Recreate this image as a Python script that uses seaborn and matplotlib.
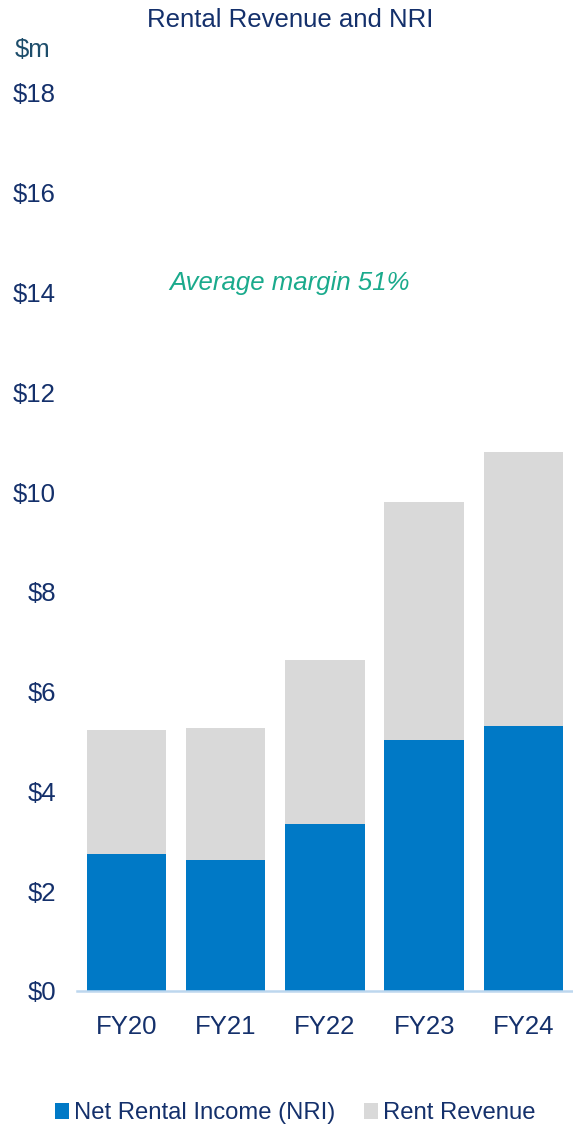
import matplotlib
matplotlib.use("Agg")
import matplotlib.pyplot as plt
import seaborn as sns
import pandas as pd
from matplotlib.patches import Patch

years = ["FY20", "FY21", "FY22", "FY23", "FY24"]
rent_revenue = [5.23, 5.27, 6.63, 9.80, 10.80]
nri = [2.75, 2.63, 3.35, 5.03, 5.31]
y_ticks = [0, 2, 4, 6, 8, 10, 12, 14, 16, 18]
y_tick_labels = [f"${v}" for v in y_ticks]

sns.set_theme(style="white")
plt.rcParams['font.family'] = ['Liberation Sans', 'DejaVu Sans']

NAVY = "#14306B"
BLUE = "#0079C6"
GREY = "#D9D9D9"
FS = 18.5

df = pd.DataFrame({"year": years, "rev": rent_revenue, "nri": nri})

fig = plt.figure(figsize=(5.73, 11.35), dpi=100)
ax = fig.add_axes([0.134, 0.1269, 0.866, 0.7912])

sns.barplot(data=df, x="year", y="rev", color=GREY, width=0.8, ax=ax,
            saturation=1, zorder=2, linewidth=0)
sns.barplot(data=df, x="year", y="nri", color=BLUE, width=0.8, ax=ax,
            saturation=1, zorder=3, linewidth=0)

ax.set_xlim(-0.5, 4.5)
ax.set_ylim(0, 18)
ax.set_yticks(y_ticks)
ax.set_yticklabels(y_tick_labels)
ax.set_xlabel("")
ax.set_ylabel("")
for s in ["top", "right", "left"]:
    ax.spines[s].set_visible(False)
ax.spines["bottom"].set_color("#BDD7EE")
ax.spines["bottom"].set_linewidth(1.8)
ax.spines["bottom"].set_zorder(4)
ax.tick_params(axis="y", length=0, pad=15, labelsize=FS, labelcolor=NAVY)
ax.tick_params(axis="x", length=0, pad=17, labelsize=FS, labelcolor=NAVY)
ax.grid(False)

ax.text(1.64, 14.2, "Average margin 51%", style="italic", color="#1AAA8C",
        fontsize=FS, ha="center", va="center")

fig.text(0.506, 0.982, "Rental Revenue and NRI", ha="center", va="center",
         fontsize=FS, color=NAVY)
fig.text(0.057, 0.956, "$m", ha="center", va="center", fontsize=FS,
         color="#1D4D6B")

handles = [Patch(facecolor=BLUE, edgecolor="none", label="Net Rental Income (NRI)"),
           Patch(facecolor=GREY, edgecolor="none", label="Rent Revenue")]
leg = fig.legend(handles=handles, loc="center", bbox_to_anchor=(0.515, 0.019),
                 ncol=2, frameon=False, fontsize=17.2, handlelength=0.6,
                 handleheight=0.6, handletextpad=0.2, columnspacing=1.2)
for t in leg.get_texts():
    t.set_color(NAVY)

fig.savefig("out.png", dpi=100)
